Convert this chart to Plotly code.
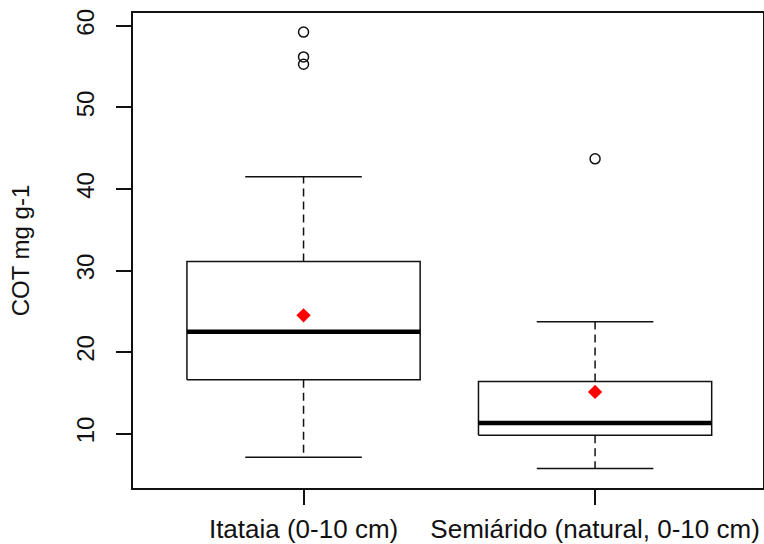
import plotly.graph_objects as go

# ---- data ----
categories = ["Itataia (0-10 cm)", "Semiárido (natural, 0-10 cm)"]
positions = [1, 2]
lower_whisker = [7.1, 5.7]
q1 = [16.6, 9.8]
median = [22.5, 11.3]
q3 = [31.1, 16.4]
upper_whisker = [41.5, 23.7]
means = [24.5, 15.1]
outliers = [[59.25, 56.2, 55.3], [43.7]]
y_ticks = [10, 20, 30, 40, 50, 60]
y_title = "COT mg g-1"

# ---- style constants ----
BOX_HALF = 0.4
CAP_HALF = 0.2
FONT = "Liberation Sans, Arial, sans-serif"
LINE = "#111"

fig = go.Figure()

for p, lo, a, m, b, hi in zip(positions, lower_whisker, q1, median, q3, upper_whisker):
    # dashed whiskers
    fig.add_trace(go.Scatter(x=[p, p, None, p, p], y=[b, hi, None, a, lo], mode="lines",
                             line=dict(color=LINE, width=1.5, dash="8px,5px"),
                             hoverinfo="skip", showlegend=False))
    # caps
    fig.add_trace(go.Scatter(x=[p - CAP_HALF, p + CAP_HALF, None, p - CAP_HALF, p + CAP_HALF],
                             y=[hi, hi, None, lo, lo], mode="lines",
                             line=dict(color=LINE, width=1.5),
                             hoverinfo="skip", showlegend=False))
    # box
    fig.add_trace(go.Scatter(x=[p - BOX_HALF, p + BOX_HALF, p + BOX_HALF, p - BOX_HALF, p - BOX_HALF],
                             y=[a, a, b, b, a], mode="lines",
                             fill="toself", fillcolor="white",
                             line=dict(color=LINE, width=1.5),
                             hoverinfo="skip", showlegend=False))
    # median
    fig.add_trace(go.Scatter(x=[p - BOX_HALF, p + BOX_HALF], y=[m, m], mode="lines",
                             line=dict(color="black", width=4.5),
                             hoverinfo="skip", showlegend=False))

# outliers
ox, oy = [], []
for p, outs in zip(positions, outliers):
    for v in outs:
        ox.append(p)
        oy.append(v)
fig.add_trace(go.Scatter(x=ox, y=oy, mode="markers",
                         marker=dict(symbol="circle-open", size=10, color=LINE,
                                     line=dict(width=1.5, color=LINE)),
                         showlegend=False))

# means
fig.add_trace(go.Scatter(x=positions, y=means, mode="markers",
                         marker=dict(symbol="diamond", size=11, color="red",
                                     line=dict(width=0)),
                         showlegend=False))

axis_common = dict(showline=True, linecolor=LINE, linewidth=1.5, mirror=True,
                   showgrid=False, zeroline=False, ticks="outside", ticklen=15,
                   tickwidth=1.5, tickcolor=LINE, automargin=False)

fig.update_layout(
    width=764, height=544,
    margin=dict(l=133, r=1, t=13, b=56),
    paper_bgcolor="white", plot_bgcolor="white",
    font=dict(family=FONT, color="#111"),
    xaxis=dict(range=[0.415, 2.576], tickvals=positions, ticktext=categories,
               tickfont=dict(size=26, family=FONT), ticklabelstandoff=2, **axis_common),
    yaxis=dict(range=[3.32, 61.59], tickvals=y_ticks, tickangle=-90,
               tickfont=dict(size=24, family=FONT), ticklabelstandoff=13, **axis_common),
    annotations=[dict(text=y_title, xref="paper", yref="paper", x=-0.178, y=0.5,
                      textangle=-90, showarrow=False, xanchor="center", yanchor="middle",
                      font=dict(size=24, family=FONT, color="#111"))],
)

fig.write_html("out.html")
